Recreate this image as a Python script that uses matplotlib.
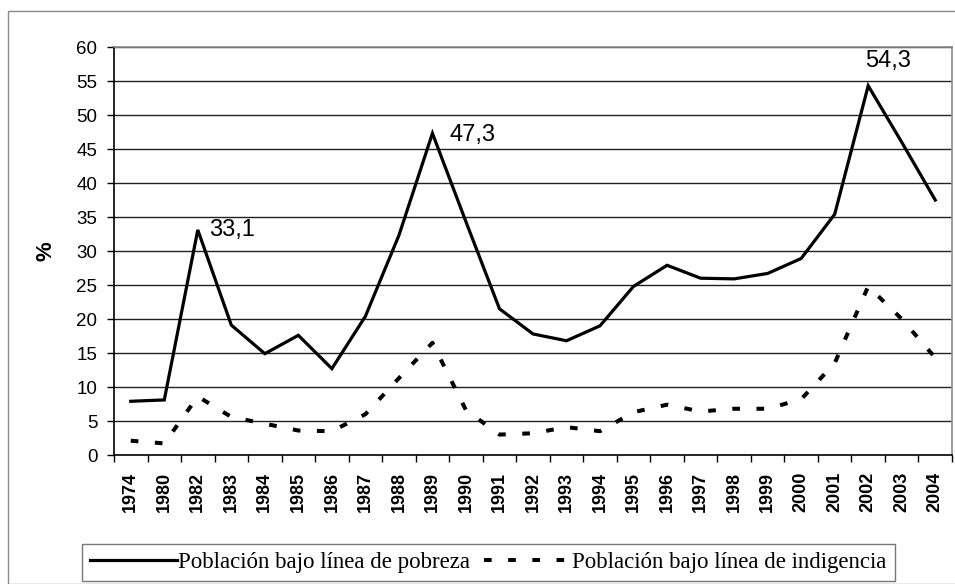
import matplotlib
matplotlib.use("Agg")
import matplotlib.pyplot as plt
from matplotlib.patches import Rectangle
import numpy as np

years = ["1974", "1980", "1982", "1983", "1984", "1985", "1986", "1987", "1988",
         "1989", "1990", "1991", "1992", "1993", "1994", "1995", "1996", "1997",
         "1998", "1999", "2000", "2001", "2002", "2003", "2004"]
pobreza = [7.9, 8.1, 33.1, 19.1, 14.9, 17.6, 12.7, 20.4, 32.3, 47.3, 34.3, 21.5,
           17.8, 16.8, 19.0, 24.8, 27.9, 26.0, 25.9, 26.7, 28.9, 35.4, 54.3, 46.0, 37.5]
indigencia = [2.1, 1.7, 8.6, 5.6, 4.6, 3.6, 3.5, 6.0, 11.3, 16.5, 6.6, 3.0,
              3.2, 4.1, 3.5, 6.3, 7.4, 6.4, 6.8, 6.8, 8.2, 13.5, 24.8, 20.0, 14.3]
labels_pts = {2: "33,1", 9: "47,3", 22: "54,3"}
yticks = list(range(0, 61, 5))

W, H = 955, 584
fig = plt.figure(figsize=(W / 100, H / 100), dpi=100)

# outer border
fig.patches.append(Rectangle((8 / W, 0), 1.2, 1 - 11 / H, transform=fig.transFigure,
                             fill=False, edgecolor="#8a8a8a", linewidth=1.0))

ax = fig.add_axes([114 / W, 1 - 455 / H, (952 - 114) / W, (455 - 47) / H])
x = np.arange(len(years))

for v in yticks[1:]:
    ax.axhline(v, color="#222222", linewidth=1.0, zorder=1)

ax.plot(x, pobreza, color="black", linewidth=2.3, solid_joinstyle="miter",
        label="Población bajo línea de pobreza", zorder=3)
ax.plot(x, indigencia, color="black", linewidth=2.9, linestyle=(0, (1.9, 4.1)),
        dash_capstyle="butt", label="Población bajo línea de indigencia", zorder=3)

ax.set_xlim(-0.5, len(years) - 0.5)
ax.set_ylim(0, 60)
ax.set_yticks(yticks)
ax.set_yticklabels([str(v) for v in yticks], fontfamily="Liberation Sans", fontsize=13.5)
ax.tick_params(axis="y", direction="out", length=5, width=1, pad=7, color="black")

ax.set_xticks(x)
ax.set_xticklabels(years, rotation=90, fontsize=13, fontweight="bold",
                   family=["Liberation Sans Narrow", "Liberation Sans"], va="top")
ax.tick_params(axis="x", which="major", length=0, pad=12)
ax.set_xticks(np.arange(-0.5, len(years)), minor=True)
ax.tick_params(axis="x", which="minor", direction="out", length=5, width=1, color="black")

for side in ["top", "right"]:
    ax.spines[side].set_color("#8a8a8a")
    ax.spines[side].set_linewidth(1.2)
for side in ["left", "bottom"]:
    ax.spines[side].set_color("black")
    ax.spines[side].set_linewidth(1.2)

ax.set_ylabel("%", fontsize=16, fontweight="bold", family="Liberation Sans", labelpad=14)

offsets = {2: (8, 0, "left", "center"), 9: (12, -1, "left", "center"),
           22: (-2, 10, "left", "bottom")}
for i, txt in labels_pts.items():
    dx, dy, ha, va = offsets[i]
    ax.annotate(txt, (x[i], pobreza[i]), xytext=(dx, dy), textcoords="offset points",
                ha=ha, va=va, fontsize=17, family="Liberation Sans", zorder=4)

leg = fig.legend(loc="lower left", bbox_to_anchor=(82 / W, 1 - 581 / H), ncol=2,
                 prop={"family": "Liberation Serif", "size": 16.5}, frameon=True,
                 fancybox=False, edgecolor="#555555", handlelength=3.8,
                 handletextpad=0.05, columnspacing=0.6, borderpad=0.35,
                 borderaxespad=0)
leg.get_frame().set_linewidth(1.0)

fig.savefig("out.png", dpi=100)
